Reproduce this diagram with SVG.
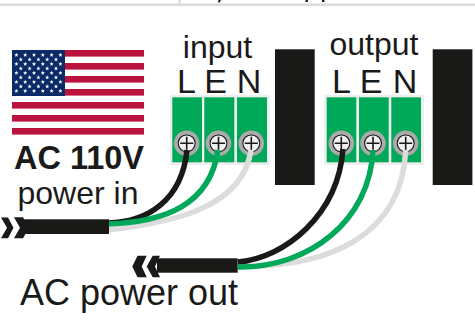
<svg xmlns="http://www.w3.org/2000/svg" width="475" height="334" viewBox="0 0 475 334">
<style>
text{font-family:"Liberation Sans",Arial,sans-serif;fill:#1a1a1a;text-anchor:middle}
.head{font-size:32px}
.pin{font-size:34px}
.bg{fill:#eeeeee}
.cell{fill:#00a859}
.bar{fill:#191a18}
.red{fill:#bb133e}
.sw{fill:#f0f0f0;stroke:#aaaaaa;stroke-width:3.5}
.sc{fill:none;stroke:#1a1a1a;stroke-width:1.6}
.wire{fill:none;stroke-linecap:butt;stroke-width:5.5}
.k{stroke:#191a18}
.g{stroke:#00a859}
.w{stroke:#dcdcdc}
</style>
<defs>
<g id="screw"><circle class="sw" r="11"/><circle r="8.5" fill="#f0f0f0" stroke="#1a1a1a" stroke-width="1.2"/><path class="sc" d="M-6.5 0H6.5M0-6.5V6.5"/></g>
<g id="star"><path d="M0-2.2L.6-.7 2.1-.7 .9.3 1.3 1.8 0 .9-1.3 1.8-.9.3-2.1-.7-.6-.7Z" fill="#fff"/></g>
<g id="starrow"><use href="#star" x="4.4"/><use href="#star" x="13.2"/><use href="#star" x="22"/><use href="#star" x="30.8"/><use href="#star" x="39.6"/><use href="#star" x="48.4"/></g>
<g id="starrow2"><use href="#star" x="8.8"/><use href="#star" x="17.6"/><use href="#star" x="26.4"/><use href="#star" x="35.2"/><use href="#star" x="44"/></g>
</defs>
<g id="header"><rect x="0" y="3.4" width="475" height="2.6" fill="#dcdcdc"/><rect x="178.4" y="0" width="2.4" height="4" fill="#dcdcdc"/><path d="M218.500 0H221L219.500 2.400H218Z" fill="#1a1a1a"/><rect x="305.500" y="0" width="2.400" height="2" fill="#1a1a1a"/><rect x="322" y="0" width="2.400" height="2" fill="#1a1a1a"/></g>
<g id="flag">
<rect x="12" y="50" width="132" height="85" fill="#fff"/>
<rect class="red" x="12" y="50" width="132" height="6.6"/><rect class="red" x="12" y="63" width="132" height="6.6"/><rect class="red" x="12" y="76" width="132" height="6.6"/><rect class="red" x="12" y="89" width="132" height="6.6"/><rect class="red" x="12" y="102" width="132" height="6.6"/><rect class="red" x="12" y="115" width="132" height="6.6"/><rect class="red" x="12" y="128" width="132" height="6.6"/>
<rect x="12" y="50" width="53" height="46" fill="#0a2a68"/>
<g transform="translate(12 0)"><use href="#starrow" y="55"/><use href="#starrow2" y="59.5"/><use href="#starrow" y="64"/><use href="#starrow2" y="68.5"/><use href="#starrow" y="73"/><use href="#starrow2" y="77.500"/><use href="#starrow" y="82"/><use href="#starrow2" y="86.500"/><use href="#starrow" y="91"/></g>
</g>
<g id="ac-110v"><text x="79" y="169" font-weight="700" style="font-size:32.500px">AC 110V</text></g>
<g id="power-in"><text x="78" y="204.300" style="font-size:32px">power in</text></g>
<g id="input-block">
<rect class="bg" x="170" y="94.700" width="99.700" height="70.300"/>
<rect class="cell" x="172.300" y="97.300" width="29.700" height="65"/><rect class="cell" x="204.300" y="97.300" width="30" height="65"/><rect class="cell" x="237" y="97.300" width="30" height="65"/>
<use href="#screw" x="186.700" y="143.300"/><use href="#screw" x="218.500" y="143.300"/><use href="#screw" x="251.300" y="143.300"/>
<text x="217.500" y="58" class="head">input</text>
<text x="186.500" y="92.500" class="pin">L</text><text x="215.500" y="92.500" class="pin">E</text><text x="249" y="92.500" class="pin">N</text>
</g>
<g id="output-block">
<rect class="bg" x="324" y="94.700" width="100" height="70.300"/>
<rect class="cell" x="326.700" y="97.300" width="29.600" height="65"/><rect class="cell" x="359" y="97.300" width="29.700" height="65"/><rect class="cell" x="391.300" y="97.300" width="29.700" height="65"/>
<use href="#screw" x="341.300" y="143.300"/><use href="#screw" x="373" y="143.300"/><use href="#screw" x="405.700" y="143.300"/>
<text x="374" y="55" class="head">output</text>
<text x="341.500" y="92.500" class="pin">L</text><text x="371" y="92.500" class="pin">E</text><text x="405" y="92.500" class="pin">N</text>
</g>
<g id="bar-1"><rect class="bar" x="275" y="49.300" width="39.700" height="135.700"/></g>
<g id="bar-2"><rect class="bar" x="432.700" y="49.300" width="39.700" height="135.700"/></g>
<g id="connectors">
<path class="wire w" d="M108 230C180 222 243 205 251 150"/>
<path class="wire k" d="M108 223C148 222 182 200 187 150"/>
<path class="wire g" d="M108 224C165 222 210 205 218 150"/>
<path class="wire w" d="M238 266C330 268 402 235 405.700 150"/>
<path class="wire k" d="M238 262C285 258 338 215 343 149"/>
<path class="wire g" d="M238 267C310 268 370 220 373 150"/>
</g>
<g id="cable-in"><rect class="bar" x="20" y="219.300" width="89" height="14.700"/><path class="bar" d="M1 217.500H8L13.500 227.800 8 238.300H1L7 227.800Z"/><path class="bar" d="M14 217.300H23L29 227.800 23 238.300H14L20 227.800Z"/></g>
<g id="cable-out"><rect class="bar" x="157" y="258.300" width="80.700" height="14.400"/><path class="bar" d="M146.700 255.700H137.500L132.300 266.500 137.500 277.300H146.700L141.700 266.500Z"/><path class="bar" d="M160 255.700H152.700L146.700 266.500 152.700 277.300H160L155 266.500Z"/></g>
<g id="ac-power-out"><text x="129" y="305" style="font-size:36px">AC power out</text></g>
</svg>
